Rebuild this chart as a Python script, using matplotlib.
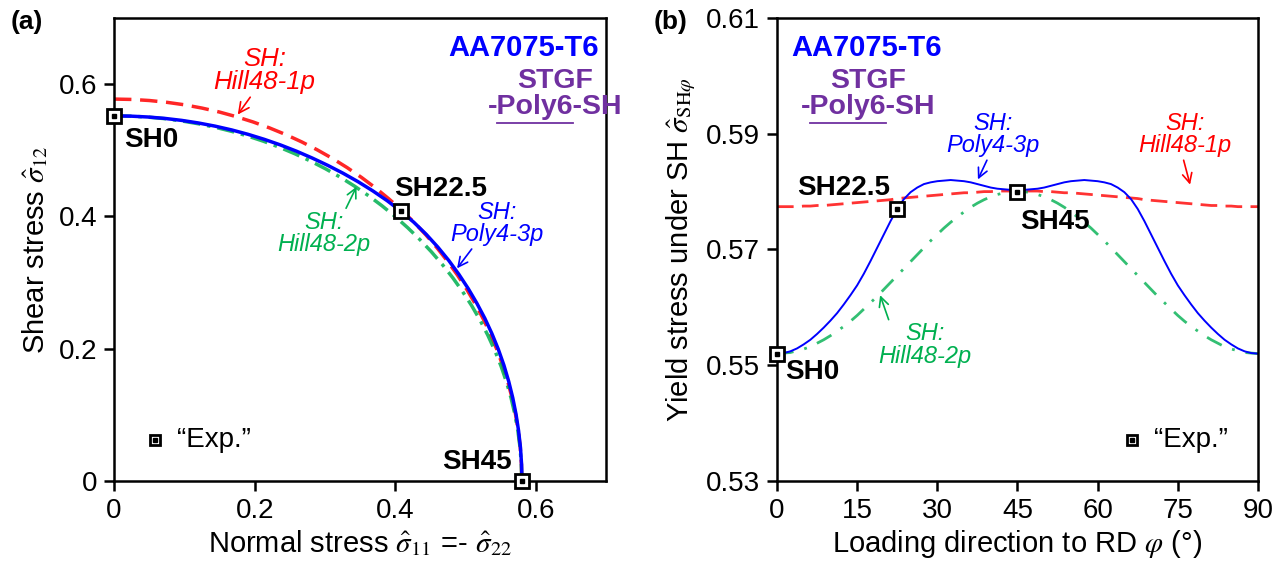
import numpy as np
import matplotlib.pyplot as plt
from matplotlib.lines import Line2D

plt.rcParams['font.family'] = ['Liberation Sans', 'DejaVu Sans']
plt.rcParams['mathtext.fontset'] = 'stix'

# loading angle (deg) and yield stress under shear, 0..45 (symmetric about 45)
phi_half = [0, 1.25, 2.5, 3.75, 5, 6.25, 7.5, 8.75, 10, 11.25, 12.5, 13.75, 15,
            16.25, 17.5, 18.75, 20, 21.25, 22.5, 23.75, 25, 26.25, 27.5, 28.75,
            30, 31.25, 32.5, 33.75, 35, 36.25, 37.5, 38.75, 40, 41.25, 42.5,
            43.75, 45]
poly4_half = [0.5520, 0.5521, 0.5524, 0.5529, 0.5536, 0.5544, 0.5554, 0.5565,
              0.5577, 0.5590, 0.5605, 0.5621, 0.5638, 0.5658, 0.5680, 0.5703,
              0.5726, 0.5749, 0.5770, 0.5787, 0.5799, 0.5807, 0.5813, 0.5816,
              0.5818, 0.5819, 0.5820, 0.5819, 0.5818, 0.5816, 0.5813, 0.5810,
              0.5807, 0.5805, 0.5804, 0.5803, 0.5803]
hill2p_half = [0.5520, 0.5521, 0.5522, 0.5525, 0.5528, 0.5532, 0.5538, 0.5544,
               0.5551, 0.5559, 0.5567, 0.5576, 0.5586, 0.5597, 0.5608, 0.5619,
               0.5631, 0.5643, 0.5655, 0.5667, 0.5679, 0.5691, 0.5703, 0.5715,
               0.5726, 0.5737, 0.5747, 0.5756, 0.5765, 0.5773, 0.5780, 0.5786,
               0.5791, 0.5795, 0.5798, 0.5800, 0.5800]
hill1p_half = [0.5774, 0.5774, 0.5774, 0.5774, 0.5775, 0.5775, 0.5776, 0.5776,
               0.5777, 0.5778, 0.5779, 0.5780, 0.5781, 0.5782, 0.5783, 0.5784,
               0.5785, 0.5786, 0.5788, 0.5789, 0.5790, 0.5791, 0.5792, 0.5793,
               0.5794, 0.5795, 0.5796, 0.5797, 0.5798, 0.5798, 0.5799, 0.5800,
               0.5800, 0.5801, 0.5801, 0.5801, 0.5801]

# experimental points
exp_phi = [0, 22.5, 45]
exp_tau = [0.552, 0.577, 0.580]
exp_names = ['SH0', 'SH22.5', 'SH45']

phi = np.array(phi_half + [90 - p for p in phi_half[-2::-1]])
poly4 = np.array(poly4_half + poly4_half[-2::-1])
hill2p = np.array(hill2p_half + hill2p_half[-2::-1])
hill1p = np.array(hill1p_half + hill1p_half[-2::-1])

BLUE = '#0000FF'
RED = '#FF0000'
GREEN = '#00B050'
PURPLE = '#7030A0'

FS_TICK = 20
FS_LAB = 21
FS_SH = 20
FS_NOTE = 17


def to_plane(p, t):
    r = np.deg2rad(2 * np.asarray(p))
    t = np.asarray(t)
    return t * np.sin(r), t * np.cos(r)


fig = plt.figure(figsize=(12.8, 5.69), dpi=100)
ax1 = fig.add_axes([0.0891, 0.1547, 0.3844, 0.8137])
ax2 = fig.add_axes([0.6070, 0.1547, 0.3758, 0.8137])

for ax in (ax1, ax2):
    for s in ax.spines.values():
        s.set_linewidth(1.8)
    ax.tick_params(direction='out', length=7, width=1.8, labelsize=FS_TICK, pad=5)

# ---------- panel (a) ----------
ph = np.array(phi_half)
x, y = to_plane(ph, hill1p_half)
ax1.plot(x, y, color=RED, lw=2.5, ls=(0, (5, 2.5)), alpha=0.85)
x, y = to_plane(ph, hill2p_half)
ax1.plot(x, y, color=GREEN, lw=2.5, ls=(0, (5, 2, 1, 2)), alpha=0.85)
x, y = to_plane(ph, poly4_half)
ax1.plot(x, y, color=BLUE, lw=2.5)
ex, ey = to_plane(exp_phi, exp_tau)
ax1.plot(ex, ey, ls='none', marker='s', ms=10, mfc='white', mec='black', mew=2, clip_on=False, zorder=5)
ax1.plot(ex, ey, ls='none', marker='s', ms=3.5, mfc='black', mec='black', clip_on=False, zorder=6)

ax1.set_xlim(0, 0.7)
ax1.set_ylim(0, 0.7)
ax1.set_xticks([0, 0.2, 0.4, 0.6])
ax1.set_xticklabels(['0', '0.2', '0.4', '0.6'])
ax1.set_yticks([0, 0.2, 0.4, 0.6])
ax1.set_yticklabels(['0', '0.2', '0.4', '0.6'])
ax1.set_xlabel(r'Normal stress $\hat{\sigma}_{11}$ =- $\hat{\sigma}_{22}$', fontsize=FS_LAB, labelpad=3)
ax1.set_ylabel(r'Shear stress $\hat{\sigma}_{12}$', fontsize=FS_LAB, labelpad=6)

ax1.text(0.014, 0.515, exp_names[0], fontsize=FS_SH, fontweight='bold', va='center', ha='left')
ax1.text(0.398, 0.442, exp_names[1], fontsize=FS_SH, fontweight='bold', va='center', ha='left')
ax1.text(0.566, 0.029, exp_names[2], fontsize=FS_SH, fontweight='bold', va='center', ha='right')

ax1.text(0.985, 0.965, 'AA7075-T6', color=BLUE, fontsize=21, fontweight='bold', ha='right', va='top',
         transform=ax1.transAxes)

ax1.annotate('SH:\nHill48-1p', xy=(0.176, 0.554), xytext=(0.214, 0.620), color=RED, fontsize=18.5,
             style='italic', ha='center', va='center', linespacing=0.95,
             arrowprops=dict(arrowstyle='->', color=RED, lw=1.2, shrinkA=0, shrinkB=0,
                             relpos=(0.38, 0.0)))
ax1.annotate('SH:\nHill48-2p', xy=(0.345, 0.445), xytext=(0.299, 0.374), color=GREEN, fontsize=FS_NOTE,
             style='italic', ha='center', va='center', linespacing=0.95,
             arrowprops=dict(arrowstyle='->', color=GREEN, lw=1.2, shrinkA=0, shrinkB=0,
                             relpos=(0.72, 1.0)))
ax1.annotate('SH:\nPoly4-3p', xy=(0.488, 0.3215), xytext=(0.545, 0.389), color=BLUE, fontsize=FS_NOTE,
             style='italic', ha='center', va='center', linespacing=0.95,
             arrowprops=dict(arrowstyle='->', color=BLUE, lw=1.2, shrinkA=0, shrinkB=0,
                             relpos=(0.25, 0.0)))

ax1.plot([0.058], [0.062], ls='none', marker='s', ms=7, mfc='white', mec='black', mew=2)
ax1.plot([0.058], [0.062], ls='none', marker='s', ms=2.5, mfc='black', mec='black')
ax1.text(0.09, 0.062, '\u201cExp.\u201d', fontsize=FS_TICK, va='center', ha='left')

# ---------- panel (b) ----------
ax2.plot(phi, hill1p, color=RED, lw=2, ls=(0, (6, 3)), alpha=0.8)
ax2.plot(phi, hill2p, color=GREEN, lw=2, ls=(0, (6, 4, 1, 4)), alpha=0.8)
ax2.plot(phi, poly4, color=BLUE, lw=1.4)
ax2.plot(exp_phi, exp_tau, ls='none', marker='s', ms=10, mfc='white', mec='black', mew=2, clip_on=False, zorder=5)
ax2.plot(exp_phi, exp_tau, ls='none', marker='s', ms=3.5, mfc='black', mec='black', clip_on=False, zorder=6)

ax2.set_xlim(0, 90)
ax2.set_ylim(0.53, 0.61)
ax2.set_xticks([0, 15, 30, 45, 60, 75, 90])
ax2.set_yticks([0.53, 0.55, 0.57, 0.59, 0.61])
ax2.set_yticklabels(['0.53', '0.55', '0.57', '0.59', '0.61'])
ax2.set_xlabel(r'Loading direction to RD $\varphi$ (°)', fontsize=FS_LAB, labelpad=3)
ax2.set_ylabel(r'Yield stress under SH $\hat{\sigma}_{\mathrm{SH}\varphi}$', fontsize=FS_LAB, labelpad=6)

ax2.text(1.5, 0.5488, exp_names[0], fontsize=FS_SH, fontweight='bold', va='center', ha='left')
ax2.text(3.7, 0.5806, exp_names[1], fontsize=FS_SH, fontweight='bold', va='center', ha='left')
ax2.text(45.5, 0.5748, exp_names[2], fontsize=FS_SH, fontweight='bold', va='center', ha='left')

ax2.text(0.03, 0.965, 'AA7075-T6', color=BLUE, fontsize=21, fontweight='bold', ha='left', va='top',
         transform=ax2.transAxes)

ax2.annotate('SH:\nPoly4-3p', xy=(37.6, 0.5821), xytext=(40.4, 0.5898), color=BLUE, fontsize=FS_NOTE,
             style='italic', ha='center', va='center', linespacing=0.95,
             arrowprops=dict(arrowstyle='->', color=BLUE, lw=1.2, shrinkA=0, shrinkB=0,
                             relpos=(0.45, 0.0)))
ax2.annotate('SH:\nHill48-1p', xy=(77.3, 0.5812), xytext=(76.3, 0.5898), color=RED, fontsize=FS_NOTE,
             style='italic', ha='center', va='center', linespacing=0.95,
             arrowprops=dict(arrowstyle='->', color=RED, lw=1.2, shrinkA=0, shrinkB=0,
                             relpos=(0.48, 0.0)))
ax2.annotate('SH:\nHill48-2p', xy=(19.3, 0.5621), xytext=(27.7, 0.5535), color=GREEN, fontsize=FS_NOTE,
             style='italic', ha='center', va='center', linespacing=0.95,
             arrowprops=dict(arrowstyle='->', color=GREEN, lw=1.2, shrinkA=0, shrinkB=0,
                             relpos=(0.12, 1.0)))

ax2.plot([66.5], [0.5370], ls='none', marker='s', ms=7, mfc='white', mec='black', mew=2)
ax2.plot([66.5], [0.5370], ls='none', marker='s', ms=2.5, mfc='black', mec='black')
ax2.text(70.5, 0.5370, '\u201cExp.\u201d', fontsize=FS_TICK, va='center', ha='left')

# panel letters
fig.text(0.008, 0.962, '(a)', fontsize=19, fontweight='bold', va='center', ha='left')
fig.text(0.511, 0.962, '(b)', fontsize=19, fontweight='bold', va='center', ha='left')

# "STGF / -Poly6-SH" labels with underlined Poly6
fig.canvas.draw()
renderer = fig.canvas.get_renderer()


def stgf_label(ax, xc, yc, y_under):
    ax.text(xc, yc, 'STGF\n-Poly6-SH', color=PURPLE, fontsize=20.5, fontweight='bold', ha='center',
            va='center', multialignment='center', linespacing=1.0, transform=ax.transAxes)
    inv = ax.transAxes.inverted()
    widths = []
    for p in ['-', 'Poly6', '-SH']:
        t = ax.text(0, 0, p, fontsize=20.5, fontweight='bold', transform=ax.transAxes)
        bb = t.get_window_extent(renderer)
        xs = inv.transform([[bb.x0, 0], [bb.x1, 0]])[:, 0]
        widths.append(xs[1] - xs[0])
        t.remove()
    x0 = xc - sum(widths) / 2 + widths[0]
    ax.add_line(Line2D([x0, x0 + widths[1]], [y_under, y_under], color=PURPLE, lw=1.3,
                       transform=ax.transAxes))


stgf_label(ax1, 0.896, 0.836, 0.773)
stgf_label(ax2, 0.189, 0.836, 0.773)

fig.savefig('out.png', dpi=100)
